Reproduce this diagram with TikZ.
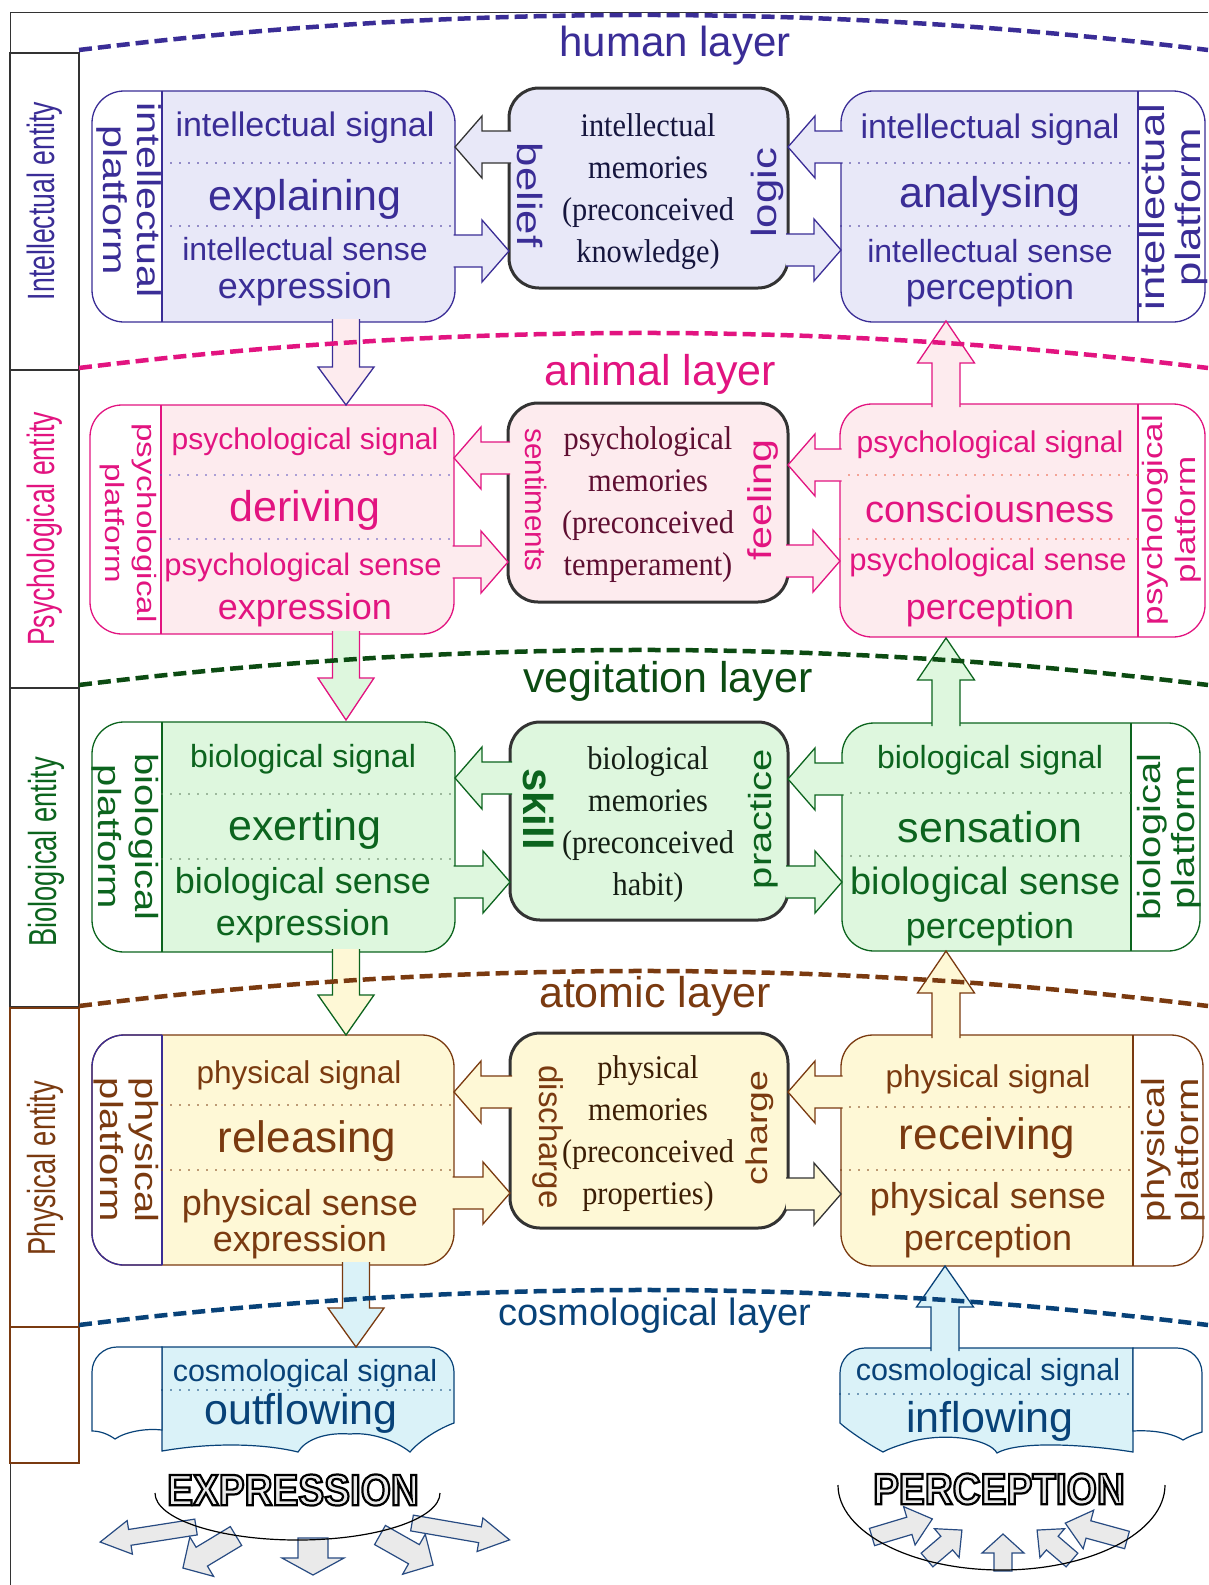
\documentclass[tikz,border=0pt]{standalone}
\usepackage{fontspec}
\setmainfont{Liberation Sans}
\newfontfamily\widef[FakeStretch=1.25]{Liberation Sans}
\newfontfamily\narrowf[FakeStretch=0.7]{Liberation Sans}
\newfontfamily\serifc[FakeStretch=0.92]{Liberation Serif}
\newfontfamily\outlf[FakeStretch=0.88]{Liberation Sans}
\newcommand\fz[1]{\fontsize{#1}{#1}\selectfont}
\newcommand\outlined[1]{\special{pdf:literal direct 2 Tr 2.2 w 0 0 0 RG}#1\special{pdf:literal direct 0 Tr}}
\definecolor{ind}{RGB}{58,45,150}
\definecolor{lav}{RGB}{232,232,248}
\definecolor{mag}{RGB}{226,20,128}
\definecolor{pinkf}{RGB}{253,235,238}
\definecolor{grn}{RGB}{12,100,30}
\definecolor{grnd}{RGB}{12,75,18}
\definecolor{grnf}{RGB}{222,247,222}
\definecolor{brn}{RGB}{122,58,16}
\definecolor{yelf}{RGB}{254,248,214}
\definecolor{cos}{RGB}{8,66,120}
\definecolor{cosf}{RGB}{218,242,248}
\definecolor{dk}{RGB}{51,51,51}
\definecolor{midI}{RGB}{22,22,62}
\definecolor{midP}{RGB}{95,15,50}
\definecolor{midB}{RGB}{20,30,20}
\definecolor{midF}{RGB}{60,30,5}
\definecolor{dotPL}{RGB}{90,80,190}
\definecolor{dotPR}{RGB}{235,90,60}
\definecolor{dotB}{RGB}{90,120,90}
\definecolor{arrg}{RGB}{234,234,234}
\definecolor{arrb}{RGB}{40,75,130}
\tikzset{
 tx/.style={inner sep=0pt, outer sep=0pt, anchor=center},
 dots/.style={line width=1.6pt, dash pattern=on 0pt off 9pt, line cap=round},
 layerline/.style={line width=4.5pt, dash pattern=on 13pt off 6pt},
 midbox/.style={line width=3pt, draw=dk, rounded corners=30pt},
 colbox/.style={line width=1.3pt},
}
% platform box: x1,y1,x2,y2, strip from, strip to, divider x, fill, draw
\newcommand\platbox[9]{%
 \begin{scope}
  \clip[rounded corners=32pt] (#1,#2) rectangle (#3,#4);
  \fill[#8] (#1,#2) rectangle (#3,#4);
  \fill[white] (#5,#2) rectangle (#6,#4);
 \end{scope}
 \draw[#9, line width=1.3pt, rounded corners=32pt] (#1,#2) rectangle (#3,#4);
 \draw[#9, line width=1.3pt] (#7,#2) -- (#7,#4);}
% open-tailed block arrow: fill, draw, tailx, taily, angle, length, shaft hw, head hw, head len
\newcommand\openarrow[9]{%
 \begin{scope}[shift={(#3,#4)},rotate=#5]
  \fill[#1] (0,-#7) -- ({#6-#9},-#7) -- ({#6-#9},-#8) -- (#6,0) -- ({#6-#9},#8) -- ({#6-#9},#7) -- (0,#7) -- cycle;
  \draw[#2,line width=1.3pt,line join=miter] (0,-#7) -- ({#6-#9},-#7) -- ({#6-#9},-#8) -- (#6,0) -- ({#6-#9},#8) -- ({#6-#9},#7) -- (0,#7);
 \end{scope}}
% closed grey arrow: tailx, taily, angle, length, shaft hw, head hw, head len
\newcommand\grayarrow[7]{%
 \begin{scope}[shift={(#1,#2)},rotate=#3]
  \filldraw[fill=arrg, draw=arrb, line width=1.2pt, line join=miter] (0,-#5) -- ({#4-#7},-#5) -- ({#4-#7},-#6) -- (#4,0) -- ({#4-#7},#6) -- ({#4-#7},#5) -- (0,#5) -- cycle;
 \end{scope}}
\newcommand\layerline[2]{%
 \draw[layerline, #1] (79,#2) .. controls (455,{#2-46.7}) and (832,{#2-46.7}) .. (1208,#2);}
\begin{document}
\begin{tikzpicture}[x=1pt,y=-1pt]
\useasboundingbox (0,0) rectangle (1208,1585);
\fill[white] (0,0) rectangle (1208,1585);
% frame
\draw[dk, line width=1pt] (1208,12) -- (10,12) -- (10,1585);
% left column
\draw[dk, colbox] (10,53) rectangle (79,370);
\draw[dk, colbox] (10,370) rectangle (79,688);
\draw[dk, colbox] (10,688) rectangle (79,1007);
\draw[brn, line width=1.1pt] (10,1008) rectangle (79,1327);
\draw[brn, line width=1.1pt] (10,1327) rectangle (79,1463);
\node[tx, rotate=90, text=ind, font=\narrowf\fz{38}] (entI) at (45,201) {Intellectual entity};
\node[tx, rotate=90, text=mag, font=\narrowf\fz{38}] (entP) at (45,529) {Psychological entity};
\node[tx, rotate=90, text=grn, font=\narrowf\fz{39}] (entB) at (46,852) {Biological entity};
\node[tx, rotate=90, text=brn, font=\narrowf\fz{39}] (entF) at (45,1168) {Physical entity};

% ===== intellectual row =====
\platbox{92}{91}{455}{322}{92}{162}{162}{lav}{ind}
\draw[dots, ind] (162,163) -- (455,163);
\draw[dots, ind] (162,226) -- (455,226);
\platbox{841}{91}{1205}{322}{1138}{1205}{1138}{lav}{ind}
\draw[dots, ind] (841,163) -- (1138,163);
\draw[dots, ind] (841,226) -- (1138,226);
\draw[midbox, fill=lav] (509,88) rectangle (788,288);

% ===== psychological row =====
\platbox{90}{405}{454}{634}{90}{161}{161}{pinkf}{mag}
\draw[dots, dotPL] (161,475) -- (454,475);
\draw[dots, dotPL] (161,539) -- (454,539);
\platbox{840}{404}{1205}{637}{1138}{1205}{1138}{pinkf}{mag}
\draw[dots, dotPR] (840,475) -- (1138,475);
\draw[dots, dotPR] (840,539) -- (1138,539);
\draw[midbox, fill=pinkf] (508,403) rectangle (788,602);

% ===== biological row =====
\platbox{92}{722}{455}{952}{92}{162}{162}{grnf}{grn}
\draw[dots, dotB] (162,794) -- (455,794);
\draw[dots, dotB] (162,859) -- (455,859);
\platbox{842}{723}{1200}{951}{1131}{1200}{1131}{grnf}{grn}
\draw[dots, dotB] (842,793) -- (1131,793);
\draw[dots, dotB] (842,856) -- (1131,856);
\draw[midbox, fill=grnf] (510,722) rectangle (788,920);

% ===== physical row =====
\platbox{92}{1035}{454}{1265}{92}{162}{162}{yelf}{brn}
\begin{scope}
 \clip (80,1020) rectangle (162,1280);
 \draw[ind, line width=1.3pt, rounded corners=32pt] (92,1035) rectangle (454,1265);
\end{scope}
\draw[ind, line width=1.3pt] (162,1035) -- (162,1265);
\draw[dots, brn] (162,1105) -- (454,1105);
\draw[dots, brn] (162,1170) -- (454,1170);
\platbox{841}{1035}{1203}{1266}{1133}{1203}{1133}{yelf}{brn}
\draw[dots, brn] (841,1107) -- (1133,1107);
\draw[dots, brn] (841,1170) -- (1133,1170);
\draw[midbox, fill=yelf] (510,1033) rectangle (788,1228);

% ===== cosmological boxes =====
\filldraw[fill=cosf, draw=cos, line width=1.2pt] (162,1347) -- (429,1347) arc[start angle=90,end angle=0,radius=25pt] -- (454,1423)
 .. controls (440,1428) and (420,1440) .. (410,1452)
 .. controls (395,1440) and (370,1432) .. (350,1434)
 .. controls (325,1432) and (305,1440) .. (298,1452)
 .. controls (270,1445) and (220,1441) .. (162,1451) -- cycle;
\filldraw[fill=white, draw=cos, line width=1.2pt] (162,1347) -- (117,1347) arc[start angle=90,end angle=180,radius=25pt] -- (92,1431)
 .. controls (100,1431) and (108,1434) .. (115,1439)
 .. controls (125,1432) and (145,1428) .. (162,1430) -- cycle;
\draw[dots, cos] (162,1390) -- (454,1390);
\filldraw[fill=cosf, draw=cos, line width=1.2pt] (1133,1348) -- (865,1348) arc[start angle=90,end angle=180,radius=25pt] -- (840,1423)
 .. controls (850,1432) and (870,1445) .. (883,1452)
 .. controls (890,1448) and (900,1445) .. (913,1441)
 .. controls (950,1432) and (990,1440) .. (997,1453)
 .. controls (1020,1440) and (1090,1445) .. (1133,1452) -- cycle;
\filldraw[fill=white, draw=cos, line width=1.2pt] (1133,1348) -- (1177,1348) arc[start angle=90,end angle=0,radius=25pt] -- (1202,1432)
 .. controls (1195,1434) and (1188,1437) .. (1183,1440)
 .. controls (1170,1432) and (1150,1430) .. (1133,1431) -- cycle;
\draw[dots, cos] (840,1394) -- (1133,1394);

% ===== horizontal arrows =====
\openarrow{lav}{dk}{511}{147}{180}{56}{16}{31}{27}
\openarrow{lav}{ind}{453.5}{251}{0}{55.5}{16}{31}{27}
\openarrow{lav}{ind}{842.5}{147}{180}{54.5}{16}{31}{27}
\openarrow{lav}{ind}{786}{250}{0}{55}{16}{31}{27}
\openarrow{pinkf}{mag}{510}{458}{180}{56}{16}{31}{27}
\openarrow{pinkf}{mag}{452.5}{562}{0}{55.5}{16}{31}{27}
\openarrow{pinkf}{mag}{841.5}{465}{180}{53.5}{16}{31}{27}
\openarrow{pinkf}{mag}{786}{561}{0}{54}{16}{31}{27}
\openarrow{grnf}{grn}{512}{778}{180}{57}{16}{31}{27}
\openarrow{grnf}{grn}{453.5}{882}{0}{56.5}{16}{31}{27}
\openarrow{grnf}{grn}{843.5}{779}{180}{55.5}{16}{31}{27}
\openarrow{grnf}{grn}{786}{882}{0}{56}{16}{31}{27}
\openarrow{yelf}{brn}{512}{1092}{180}{58}{16}{31}{27}
\openarrow{yelf}{brn}{452.5}{1193}{0}{57.5}{16}{31}{27}
\openarrow{yelf}{brn}{842.5}{1092}{180}{54.5}{16}{31}{27}
\openarrow{yelf}{dk}{786}{1194}{0}{55}{16}{31}{27}

% ===== vertical arrows =====
\openarrow{pinkf}{ind}{346}{319}{-90}{86}{13.5}{28}{38}
\openarrow{grnf}{mag}{346}{631}{-90}{89}{13.5}{28}{42}
\openarrow{yelf}{grn}{346}{949}{-90}{86}{13.5}{28}{40}
\openarrow{cosf}{brn}{356}{1262}{-90}{85}{13.5}{28}{39}
\openarrow{pinkf}{mag}{946}{407}{90}{86}{14}{28.5}{42}
\openarrow{grnf}{grn}{946}{726}{90}{88}{14}{28.5}{42}
\openarrow{yelf}{brn}{946}{1038}{90}{87}{14}{28.5}{42}
\openarrow{cosf}{cos}{945}{1351}{90}{85}{14}{28.5}{41}

% ===== layer lines =====
\layerline{ind}{50}
\layerline{mag}{368}
\layerline{grnd}{685}
\layerline{brn}{1006}
\layerline{cos}{1325}
\node[tx, text=ind, font=\fz{42}] (lh) at (675,46) {human layer};
\node[tx, text=mag, font=\fz{43}] (la) at (660,374) {animal layer};
\node[tx, text=grnd, font=\fz{43}] (lv) at (668,681) {vegitation layer};
\node[tx, text=brn, font=\fz{43}] (lt) at (655,996) {atomic layer};
\node[tx, text=cos, font=\fz{38}] (lc) at (655,1316) {cosmological layer};

% ===== texts: intellectual =====
\node[tx, text=ind, font=\fz{34}] (iL1) at (305,128) {intellectual signal};
\node[tx, text=ind, font=\fz{43}] (iL2) at (305,199) {explaining};
\node[tx, text=ind, font=\fz{32}] (iL3) at (305,249) {intellectual sense};
\node[tx, text=ind, font=\fz{36}] (iL4) at (305,289) {expression};
\node[tx, rotate=-90, text=ind, align=center, font=\widef\fontsize{33}{34}\selectfont] (iLp) at (129,200) {intellectual\\platform};
\node[tx, text=ind, font=\fz{34}] (iR1) at (990,130) {intellectual signal};
\node[tx, text=ind, font=\fz{43}] (iR2) at (990,196) {analysing};
\node[tx, text=ind, font=\fz{32}] (iR3) at (990,251) {intellectual sense};
\node[tx, text=ind, font=\fz{36}] (iR4) at (990,290) {perception};
\node[tx, rotate=90, text=ind, align=center, font=\widef\fontsize{35}{36}\selectfont] (iRp) at (1173,207) {intellectual\\platform};
\node[tx, text=midI, align=center, font=\serifc\fontsize{33}{42}\selectfont] (iM) at (648,192) {intellectual\\memories\\(preconceived\\knowledge)};
\node[tx, rotate=-90, text=ind, font=\widef\fz{35}] (iMl) at (530,195) {belief};
\node[tx, rotate=90, text=ind, font=\widef\fz{35}] (iMr) at (767,193) {logic};

% ===== texts: psychological =====
\node[tx, text=mag, font=\fz{30}] (pL1) at (305,442) {psychological signal};
\node[tx, text=mag, font=\fz{43}] (pL2) at (305,510) {deriving};
\node[tx, text=mag, font=\fz{31}] (pL3) at (303,567) {psychological sense};
\node[tx, text=mag, font=\fz{36}] (pL4) at (305,610) {expression};
\node[tx, rotate=-90, text=mag, align=center, font=\widef\fontsize{26.5}{32}\selectfont] (pLp) at (128,523) {psychological\\platform};
\node[tx, text=mag, font=\fz{30}] (pR1) at (990,445) {psychological signal};
\node[tx, text=mag, font=\fz{38}] (pR2) at (990,509) {consciousness};
\node[tx, text=mag, font=\fz{31}] (pR3) at (988,562) {psychological sense};
\node[tx, text=mag, font=\fz{36}] (pR4) at (990,610) {perception};
\node[tx, rotate=90, text=mag, align=center, font=\widef\fontsize{28}{33}\selectfont] (pRp) at (1172,520) {psychological\\platform};
\node[tx, text=midP, align=center, font=\serifc\fontsize{33}{42}\selectfont] (pM) at (648,505) {psychological\\memories\\(preconceived\\temperament)};
\node[tx, rotate=-90, text=mag, font=\fz{29.5}] (pMl) at (536,500) {sentiments};
\node[tx, rotate=90, text=mag, font=\widef\fz{33}] (pMr) at (763,500) {feeling};

% ===== texts: biological =====
\node[tx, text=grn, font=\fz{32}] (bL1) at (303,759) {biological signal};
\node[tx, text=grn, font=\fz{43}] (bL2) at (305,829) {exerting};
\node[tx, text=grn, font=\fz{36}] (bL3) at (303,884) {biological sense};
\node[tx, text=grn, font=\fz{36}] (bL4) at (303,926) {expression};
\node[tx, rotate=-90, text=grn, align=center, font=\widef\fontsize{32}{37}\selectfont] (bLp) at (125,837) {biological\\platform};
\node[tx, text=grn, font=\fz{32}] (bR1) at (990,760) {biological signal};
\node[tx, text=grn, font=\fz{43}] (bR2) at (990,827) {sensation};
\node[tx, text=grn, font=\fz{38}] (bR3) at (986,885) {biological sense};
\node[tx, text=grn, font=\fz{36}] (bR4) at (990,929) {perception};
\node[tx, rotate=90, text=grn, align=center, font=\widef\fontsize{32}{34}\selectfont] (bRp) at (1169,837) {biological\\platform};
\node[tx, text=midB, align=center, font=\serifc\fontsize{33}{42}\selectfont] (bM) at (648,825) {biological\\memories\\(preconceived\\habit)};
\node[tx, rotate=-90, text=grn, font=\bfseries\fz{42}] (bMl) at (539,809) {skill};
\node[tx, rotate=90, text=grn, font=\widef\fz{32}] (bMr) at (763,819) {practice};

% ===== texts: physical =====
\node[tx, text=brn, font=\fz{31.5}] (fL1) at (299,1075) {physical signal};
\node[tx, text=brn, font=\fz{44}] (fL2) at (307,1141) {releasing};
\node[tx, text=brn, font=\fz{36}] (fL3) at (300,1206) {physical sense};
\node[tx, text=brn, font=\fz{36}] (fL4) at (300,1242) {expression};
\node[tx, rotate=-90, text=brn, align=center, font=\widef\fontsize{32}{35}\selectfont] (fLp) at (126,1150) {physical\\platform};
\node[tx, text=brn, font=\fz{31.5}] (fR1) at (988,1079) {physical signal};
\node[tx, text=brn, font=\fz{44}] (fR2) at (987,1138) {receiving};
\node[tx, text=brn, font=\fz{36}] (fR3) at (988,1199) {physical sense};
\node[tx, text=brn, font=\fz{36}] (fR4) at (988,1241) {perception};
\node[tx, rotate=90, text=brn, align=center, font=\widef\fontsize{32}{34}\selectfont] (fRp) at (1173,1150) {physical\\platform};
\node[tx, text=midF, align=center, font=\serifc\fontsize{33}{42}\selectfont] (fM) at (648,1134) {physical\\memories\\(preconceived\\properties)};
\node[tx, rotate=-90, text=brn, font=\fz{33}] (fMl) at (548,1137) {discharge};
\node[tx, rotate=90, text=brn, font=\widef\fz{30}] (fMr) at (760,1128) {charge};

% ===== texts: cosmological =====
\node[tx, text=cos, font=\fz{30.5}] (cL1) at (305,1374) {cosmological signal};
\node[tx, text=cos, font=\fz{43}] (cL2) at (301,1413) {outflowing};
\node[tx, text=cos, font=\fz{30.5}] (cR1) at (988,1373) {cosmological signal};
\node[tx, text=cos, font=\fz{43}] (cR2) at (990,1421) {inflowing};

% ===== expression / perception =====
\grayarrow{196}{1527}{188.9}{97}{8}{17}{30}
\grayarrow{236}{1536}{211.1}{62}{11}{23}{22}
\grayarrow{313}{1538}{-90}{37}{15}{31}{17}
\grayarrow{380}{1535}{-29.5}{61}{11}{23}{22}
\grayarrow{412}{1523}{-9.8}{99}{8}{17}{30}
\grayarrow{872}{1537}{16.7}{63}{9}{20}{24}
\grayarrow{927}{1560}{40.6}{46}{9}{19}{20}
\grayarrow{1003}{1571}{90}{37}{9}{21}{19}
\grayarrow{1072}{1560}{139.4}{46}{9}{19}{20}
\grayarrow{1127}{1540}{164.7}{64}{9}{20}{24}
\draw[black, line width=1.2pt] (155,1493) arc[start angle=180, end angle=360, x radius=142.5pt, y radius=47pt];
\draw[black, line width=1.2pt] (838,1485) arc[start angle=180, end angle=360, x radius=163.5pt, y radius=85pt];
\node[tx, text=arrg, font=\outlf\bfseries\fz{44}] (expr) at (293,1490) {\outlined{EXPRESSION}};
\node[tx, text=arrg, font=\outlf\bfseries\fz{44}] (perc) at (999,1489) {\outlined{PERCEPTION}};
\end{tikzpicture}
\end{document}
